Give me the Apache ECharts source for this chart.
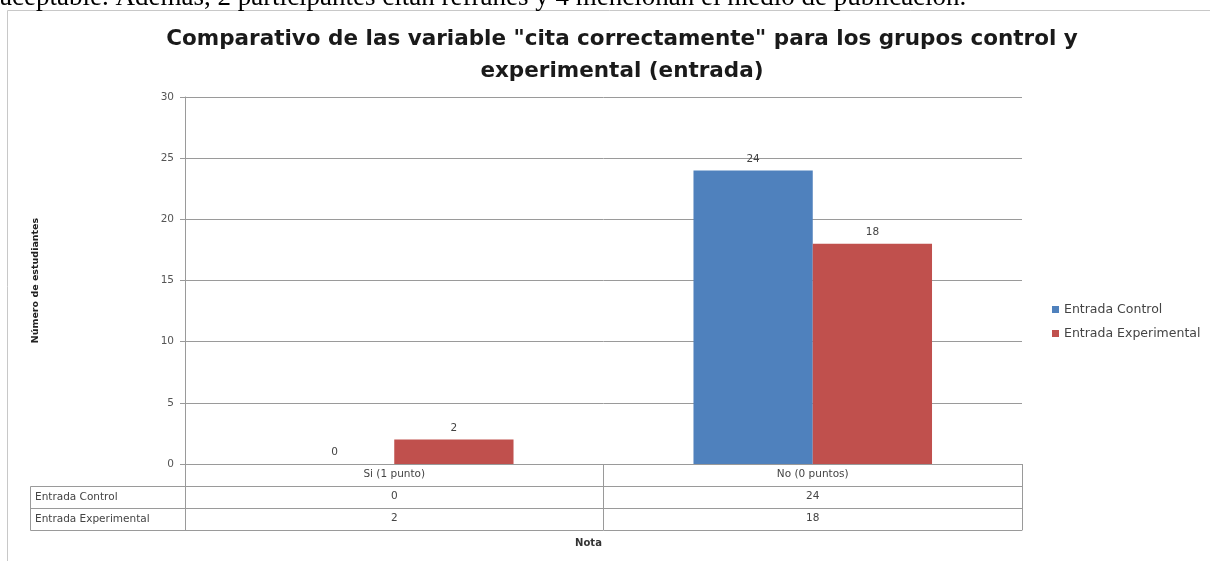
<!DOCTYPE html>
<html><head><meta charset="utf-8">
<script src="https://cdn.jsdelivr.net/npm/echarts@6/dist/echarts.min.js"></script>
<style>html,body{margin:0;padding:0;background:#fff}#c{width:1210px;height:561px}</style>
</head><body><div id="c"></div>
<script>
const categories = ['Si (1 punto)', 'No (0 puntos)'];
const seriesNames = ['Entrada Control', 'Entrada Experimental'];
const controlValues = [0, 24];
const experimentalValues = [2, 18];
const yTicks = [0, 5, 10, 15, 20, 25, 30];

const colors = ['#4F81BD', '#C0504D'];
const gridL = 185, gridR = 1022, gridT = 97, gridB = 464, rowH = 22, tableLeft = 30;
const font = 'DejaVu Sans';
const lineCol = '#9a9a9a';

const chart = echarts.init(document.getElementById('c'));
const rowAxis = (offset, values, showLabel) => ({
  type: 'category', data: categories, gridIndex: 0, position: 'bottom', offset: offset,
  axisLine: { show: true, lineStyle: { color: lineCol, width: 1 } },
  axisTick: { show: showLabel, length: rowH, interval: 0, lineStyle: { color: lineCol } },
  axisLabel: { show: showLabel, margin: 5, fontFamily: font, fontSize: 10.5, color: '#444',
    formatter: (v, i) => values ? String(values[i]) : v },
  splitLine: { show: false }
});
chart.setOption({
  animation: false,
  textStyle: { fontFamily: font },
  title: {
    text: 'Comparativo de las variable "cita correctamente" para los grupos control y\nexperimental (entrada)',
    left: 617, textAlign: 'center', top: 18,
    textStyle: { fontFamily: font, fontWeight: 'bold', fontSize: 21.5, lineHeight: 32, color: '#1a1a1a' }
  },
  legend: {
    orient: 'vertical', left: 1047, top: 298, itemWidth: 7, itemHeight: 7, itemGap: 11,
    icon: 'rect', textStyle: { fontFamily: font, fontSize: 12.5, color: '#444' },
    data: seriesNames
  },
  grid: { left: gridL, right: 1210 - gridR, top: gridT, bottom: 561 - gridB, containLabel: false },
  xAxis: [
    rowAxis(0, null, true),
    rowAxis(rowH, controlValues, true),
    rowAxis(rowH * 2, experimentalValues, true),
    Object.assign(rowAxis(rowH * 3, null, false), {
      name: 'Nota', nameLocation: 'middle', nameGap: 8,
      nameTextStyle: { fontFamily: font, fontWeight: 'bold', fontSize: 10, color: '#333', padding: [0, 30, 0, 0] }
    })
  ],
  yAxis: {
    type: 'value', min: yTicks[0], max: yTicks[yTicks.length - 1], interval: 5,
    name: 'Número de estudiantes', nameLocation: 'middle', nameRotate: 90, nameGap: 144,
    nameTextStyle: { fontFamily: font, fontWeight: 'bold', fontSize: 9.5, color: '#222' },
    axisLine: { show: true, lineStyle: { color: lineCol } },
    axisTick: { show: true, length: 5, lineStyle: { color: lineCol } },
    axisLabel: { margin: 11, fontSize: 10.5, color: '#555', fontFamily: font },
    splitLine: { show: true, lineStyle: { color: lineCol, width: 1 } }
  },
  series: [
    { name: seriesNames[0], type: 'bar', data: controlValues, barGap: '0%', barCategoryGap: '43%',
      itemStyle: { color: colors[0] },
      label: { show: true, position: 'top', distance: 6, fontSize: 10.5, color: '#444', fontFamily: font } },
    { name: seriesNames[1], type: 'bar', data: experimentalValues, barGap: '0%', barCategoryGap: '43%',
      itemStyle: { color: colors[1] },
      label: { show: true, position: 'top', distance: 6, fontSize: 10.5, color: '#444', fontFamily: font } }
  ],
  graphic: [
    { type: 'rect', shape: { x: 7.5, y: 10.5, width: 1220, height: 560 }, style: { fill: 'none', stroke: '#c8c8c8', lineWidth: 1 }, silent: true },
    { type: 'text', x: 0, y: 11, style: { text: 'aceptable. Además, 2 participantes citan refranes y 4 mencionan el medio de publicación.', font: '27px "Liberation Serif"', fill: '#000', textVerticalAlign: 'bottom' } },
    { type: 'rect', shape: { x: tableLeft + 0.5, y: gridB + rowH + 0.5, width: gridL - tableLeft, height: rowH * 2 }, style: { fill: 'none', stroke: lineCol, lineWidth: 1 } },
    { type: 'line', shape: { x1: tableLeft, y1: gridB + rowH * 2 + 0.5, x2: gridL, y2: gridB + rowH * 2 + 0.5 }, style: { stroke: lineCol, lineWidth: 1 } },
    { type: 'text', x: tableLeft + 5, y: gridB + rowH * 1.5, style: { text: seriesNames[0], font: '10.5px "DejaVu Sans"', fill: '#444', textVerticalAlign: 'middle' } },
    { type: 'text', x: tableLeft + 5, y: gridB + rowH * 2.5, style: { text: seriesNames[1], font: '10.5px "DejaVu Sans"', fill: '#444', textVerticalAlign: 'middle' } }
  ]
});
</script></body></html>
